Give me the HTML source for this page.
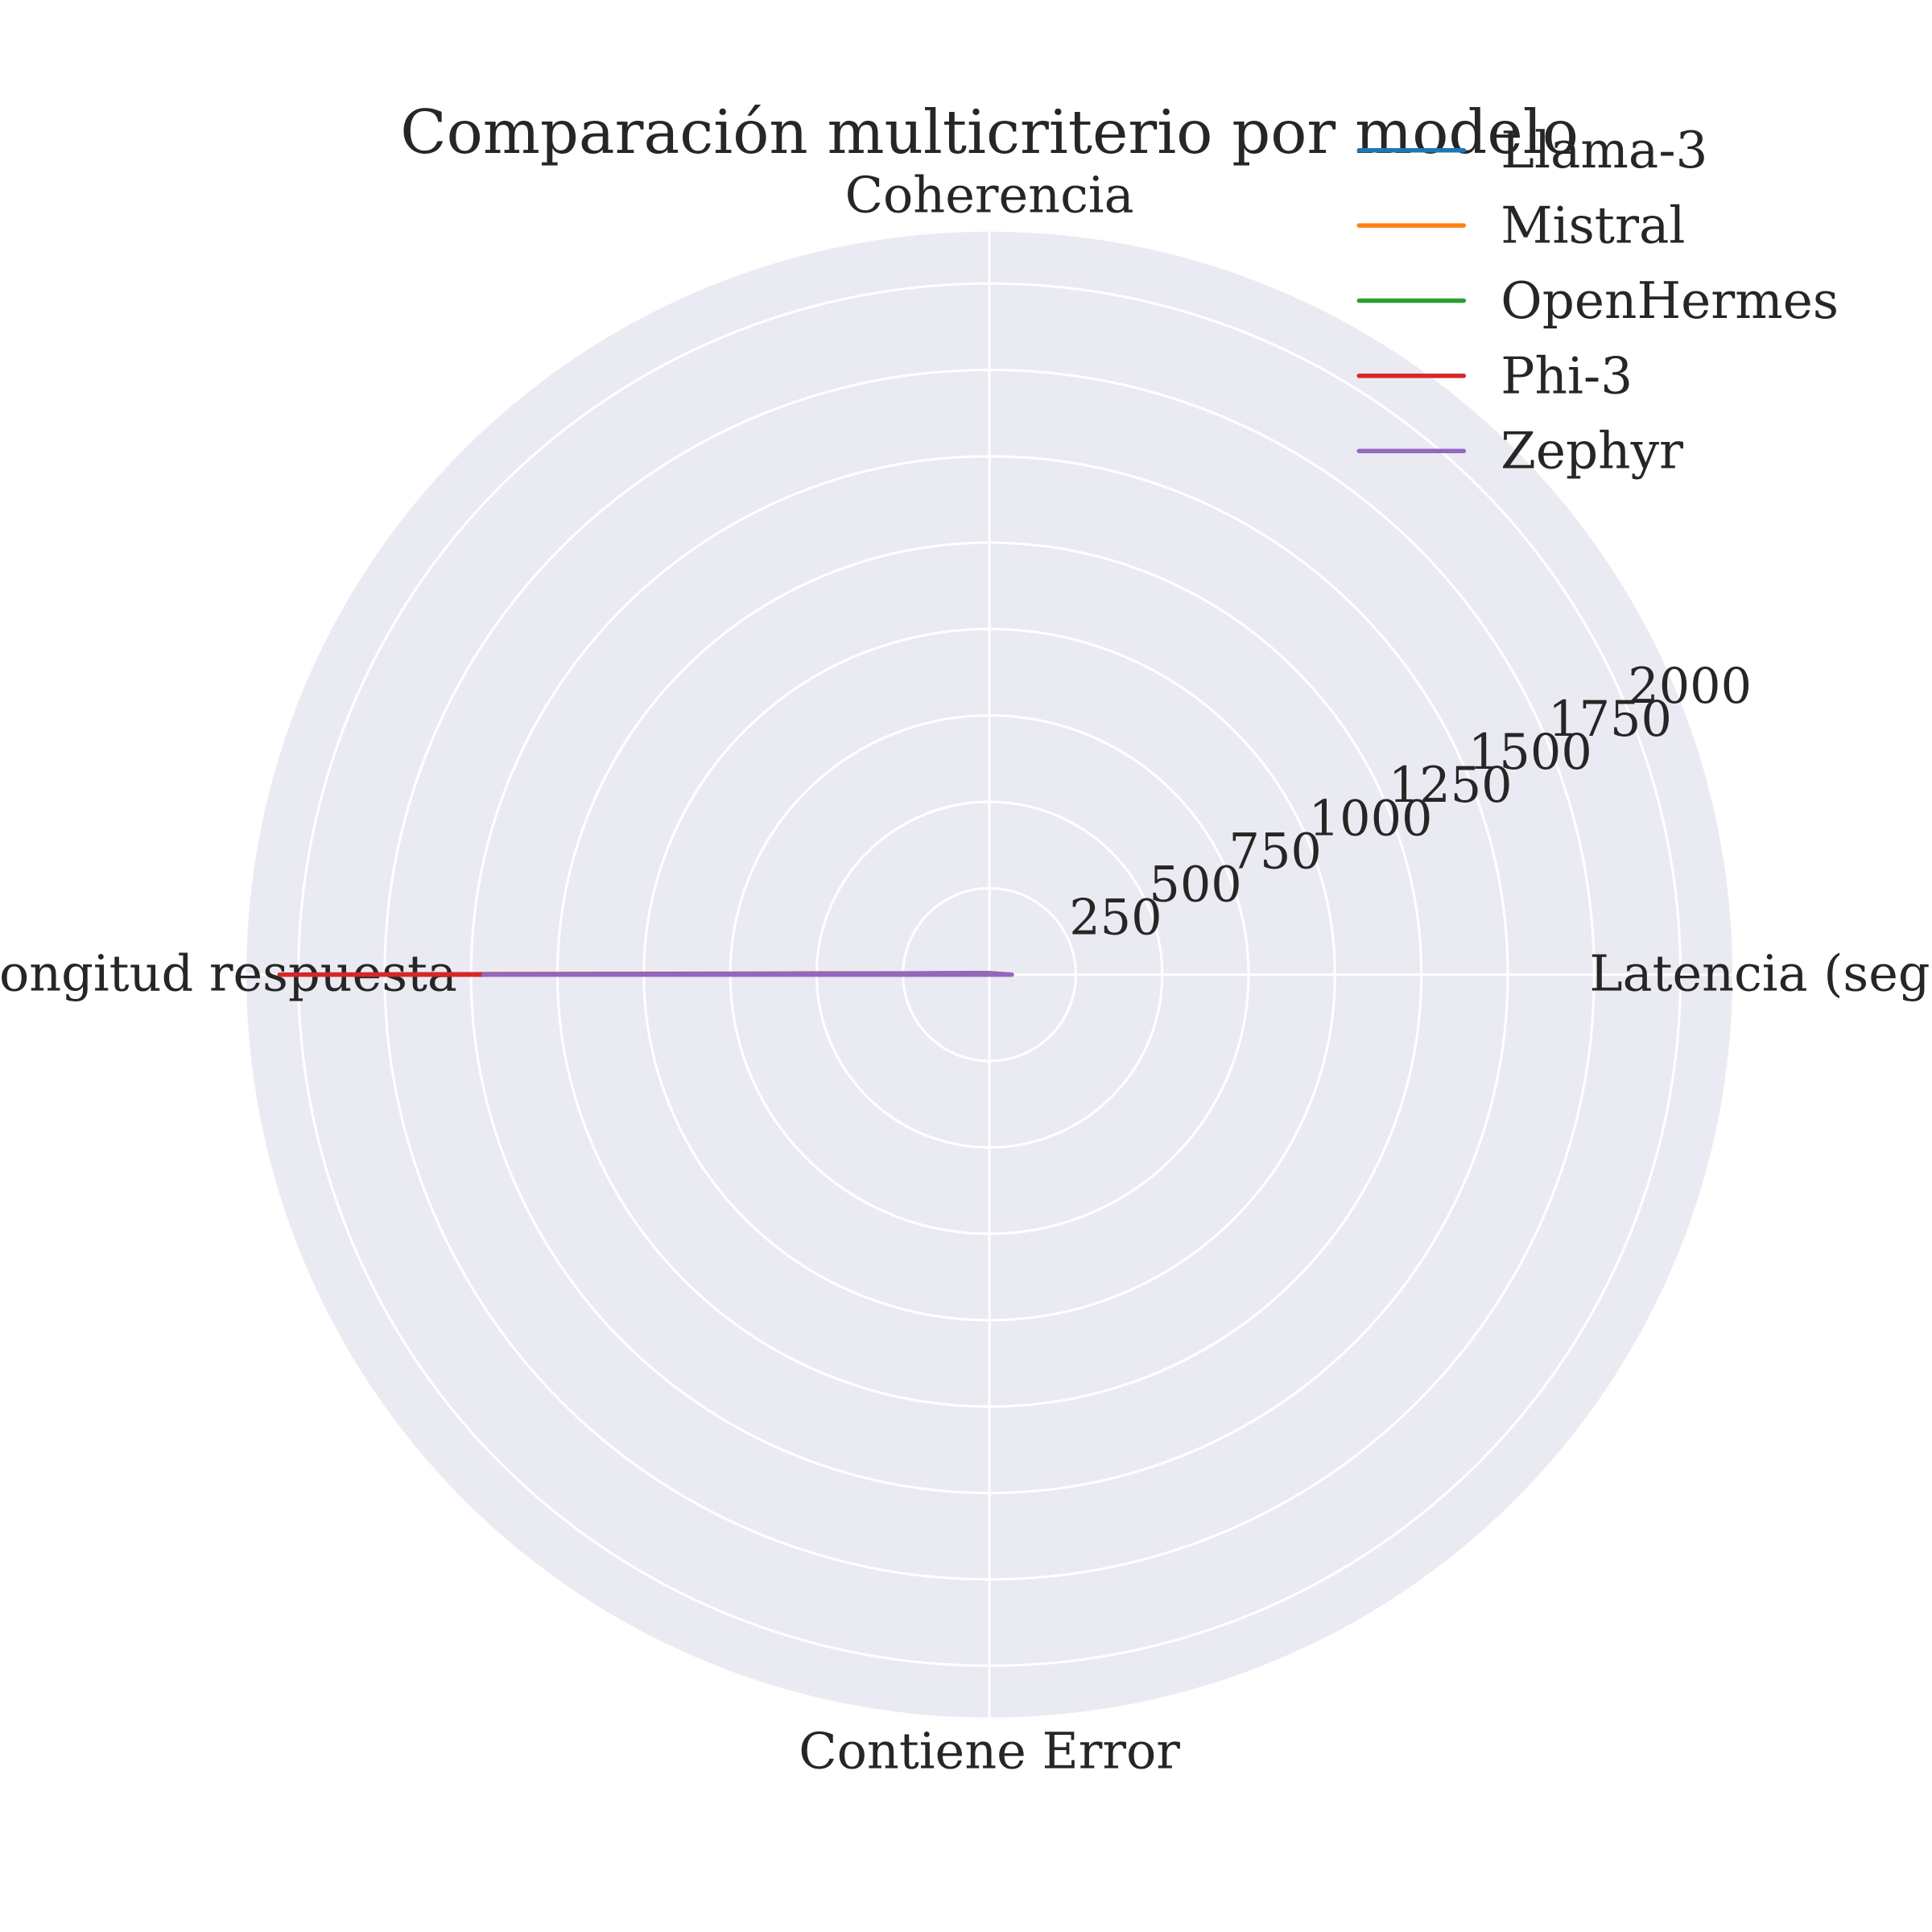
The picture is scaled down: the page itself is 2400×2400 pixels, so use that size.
<!DOCTYPE html>
<html><head><meta charset="utf-8">
<style>
html,body{margin:0;padding:0;background:#fff;}
svg{display:block;}
text{font-family:"DejaVu Serif","Liberation Serif",serif;fill:#262626;}
</style></head>
<body>
<svg id="chart" width="2400" height="2400" viewBox="0 0 1568 1568" xmlns="http://www.w3.org/2000/svg">
  <text x="803" y="124" font-size="49" text-anchor="middle">Comparación multicriterio por modelo</text>
  <g id="plot"></g>
  <g id="legend"></g>
</svg>
<script>
const categories = ["Coherencia", "Latencia (seg)", "Contiene Error", "Longitud respuesta"];
const models = ["Llama-3", "Mistral", "OpenHermes", "Phi-3", "Zephyr"];
const llamaValues = [4, 60, 0, 1300];
const mistralValues = [4, 55, 0, 1400];
const openhermesValues = [4, 50, 0, 1200];
const phiValues = [4, 50, 0, 2054];
const zephyrValues = [4, 65, 0, 1464];
const tickLabels = [250, 500, 750, 1000, 1250, 1500, 1750, 2000];
const rMax = 2150;

const colors = ["#1f77b4", "#ff7f0e", "#2ca02c", "#d62728", "#9467bd"];
const series = [llamaValues, mistralValues, openhermesValues, phiValues, zephyrValues];
const NS = "http://www.w3.org/2000/svg";
const cx = 803, cy = 791, R = 603;
const plot = document.getElementById("plot");
function rScale(v){ return v / rMax * R; }
function angleOf(i){ return Math.PI/2 - i * 2*Math.PI/categories.length; }
function pt(i, v){ const a = angleOf(i), r = rScale(v); return [cx + r*Math.cos(a), cy - r*Math.sin(a)]; }
function mk(tag, attrs, parent){ const e = document.createElementNS(NS, tag); for (const k in attrs) e.setAttribute(k, attrs[k]); parent.appendChild(e); return e; }

const bg = mk("circle", {cx:cx, cy:cy, r:R, fill:"#EAEAF2"}, plot);



tickLabels.forEach(t => {
  const c = mk("circle", {cx:cx, cy:cy, r:rScale(t), fill:"none", stroke:"#fff", "stroke-width":2}, plot);
  
  
});
categories.forEach((c, i) => {
  const p = pt(i, rMax);
  const l = mk("line", {x1:cx, y1:cy, x2:p[0], y2:p[1], stroke:"#fff", "stroke-width":2}, plot);
  
  
});
tickLabels.forEach(t => {
  const a = 22.5*Math.PI/180, r = rScale(t);
  const tx = mk("text", {x:cx + r*Math.cos(a), y:cy - r*Math.sin(a) - 6, "font-size":39.5}, plot);
  tx.textContent = t;
  
  
});
const labelPos = [[803,172,"middle"],[1290,804,"start"],[803,1435,"middle"],[371,804,"end"]];
categories.forEach((c, i) => {
  const tx = mk("text", {x:labelPos[i][0], y:labelPos[i][1], "font-size":40.5, "text-anchor":labelPos[i][2]}, plot);
  tx.textContent = c;
  
  
});
series.forEach((vals, s) => {
  const pts = vals.map((v, i) => pt(i, v));
  pts.push(pts[0]);
  const pl = mk("polyline", {points: pts.map(p => p[0].toFixed(2)+","+p[1].toFixed(2)).join(" "), fill:"none", stroke:colors[s], "stroke-width":3.6, "stroke-linejoin":"round"}, plot);
  
  
});
const legend = document.getElementById("legend");
models.forEach((m, i) => {
  const y = 122 + i*61;
  const l = mk("line", {x1:1103, y1:y, x2:1188, y2:y, stroke:colors[i], "stroke-width":3.6, "stroke-linecap":"round"}, legend);
  
  
  const t = mk("text", {x:1218, y:y+14, "font-size":41}, legend);
  t.textContent = m;
  
  
});
</script>
</body></html>
